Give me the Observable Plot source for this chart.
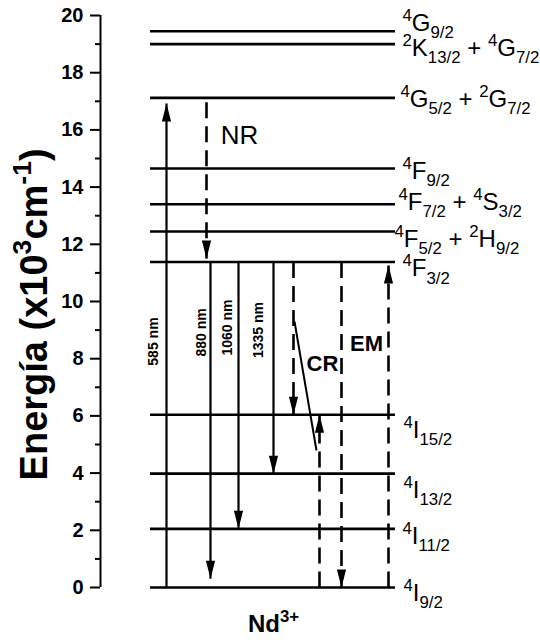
<!DOCTYPE html>
<html>
<head>
<meta charset="utf-8">
<script src="https://cdn.jsdelivr.net/npm/d3@7"></script>
<script src="https://cdn.jsdelivr.net/npm/@observablehq/plot@0.6"></script>
<style>
  html, body { margin: 0; padding: 0; background: white; }
  #chart { width: 540px; height: 642px; }
</style>
</head>
<body>
<div id="chart"></div>
<script>
// ---- Data ----
// Energy levels of Nd3+ (x10^3 cm^-1)
const levelE = [0, 2.05, 3.98, 6.04, 11.38, 12.45, 13.40, 14.65, 17.12, 19.0, 19.45];
const levelName = [
  "^{4}I_{9/2}", "^{4}I_{11/2}", "^{4}I_{13/2}", "^{4}I_{15/2}", "^{4}F_{3/2}",
  "^{4}F_{5/2} + ^{2}H_{9/2}", "^{4}F_{7/2} + ^{4}S_{3/2}", "^{4}F_{9/2}",
  "^{4}G_{5/2} + ^{2}G_{7/2}", "^{2}K_{13/2} + ^{4}G_{7/2}", "^{4}G_{9/2}"
];
const labelE = [-0.21, 1.78, 3.39, 5.49, 11.15, 12.17, 13.47, 14.55, 17.06, 18.85, 19.74];
const labelCol = [30.3, 30.2, 30.3, 30.3, 30.2, 29.4, 29.8, 30.2, 30.0, 30.2, 30.2];

// Transitions (arrows): column, start energy, end energy, dashed?
const arrowName = ["585 nm", "NR", "880 nm", "1060 nm", "1335 nm", "CR down", "CR up", "EM down", "EM up"];
const arrowCol = [6.6, 10.6, 11.0, 13.8, 17.3, 19.3, 21.9, 24.1, 28.8];
const arrowFrom = [0, 16.97, 11.38, 11.38, 11.38, 11.38, 0, 11.38, 0];
const arrowTo = [16.92, 11.5, 0.31, 2.05, 3.98, 6.04, 6.04, 0, 11.26];
const arrowDashed = [false, true, false, false, false, true, true, true, true];

// Cross-relaxation connector
const crCol = [19.4, 21.6];
const crE = [9.30, 4.79];

// Wavelength labels
const nmLabel = ["585 nm", "880 nm", "1060 nm", "1335 nm"];
const nmCol = [5.3, 10.1, 12.7, 15.8];
const nmE = [8.6, 8.92, 9.09, 9.0];

// Process labels
const procLabel = ["NR", "CR", "EM"];
const procCol = [13.9, 22.2, 26.6];
const procE = [15.8, 7.8, 8.53];

// Axis
const yTicks = [0, 2, 4, 6, 8, 10, 12, 14, 16, 18, 20];
const yMinor = [1, 3, 5, 7, 9, 11, 13, 15, 17, 19];
const yTitle = "Energía (x10^{3}cm^{-1})";
const xTitle = "Nd^{3+}";

// ---- Chart ----
const idx = arr => arr.map((_, i) => i);
const arrowIdx = idx(arrowCol);
const solidIdx = arrowIdx.filter(i => !arrowDashed[i]);
const dashIdx = arrowIdx.filter(i => arrowDashed[i]);

const headSymbol = {
  draw(ctx) {
    ctx.moveTo(0, 0);
    ctx.lineTo(4.6, 18);
    ctx.lineTo(-4.6, 18);
    ctx.closePath();
  }
};

const svg = Plot.plot({
  width: 540,
  height: 642,
  marginLeft: 100,
  marginRight: 0,
  marginTop: 15,
  marginBottom: 55,
  x: {domain: [0, 44], axis: null},
  y: {domain: [0, 20], axis: null},
  style: {fontFamily: "'Liberation Sans', Arial, sans-serif", background: "white", color: "black", overflow: "visible"},
  marks: [
    Plot.axisY({ticks: yTicks, tickSize: 10, tickPadding: 7, fontSize: 20, label: null, strokeWidth: 2, tickFormat: d => String(d)}),
    Plot.axisY({ticks: yMinor, tickSize: 5, text: null, label: null, strokeWidth: 2}),
    Plot.ruleX([0], {y1: 0, y2: 20, strokeWidth: 2}),
    // energy levels
    Plot.ruleY(levelE, {x1: 5.0, x2: 29.5, strokeWidth: 2.6, stroke: "black"}),
    // arrows
    Plot.link(solidIdx, {x1: i => arrowCol[i], x2: i => arrowCol[i], y1: i => arrowFrom[i], y2: i => arrowTo[i], stroke: "black", strokeWidth: 2.2}),
    Plot.link(dashIdx, {x1: i => arrowCol[i], x2: i => arrowCol[i], y1: i => arrowFrom[i], y2: i => arrowTo[i], stroke: "black", strokeWidth: 2.6, strokeDasharray: "16,8"}),
    Plot.dot(arrowIdx, {x: i => arrowCol[i], y: i => arrowTo[i], symbol: headSymbol, rotate: i => arrowTo[i] > arrowFrom[i] ? 0 : 180, fill: "black", stroke: "none"}),
    Plot.link([0], {x1: () => crCol[0], x2: () => crCol[1], y1: () => crE[0], y2: () => crE[1], stroke: "black", strokeWidth: 2}),
    // labels
    Plot.text(idx(levelE), {x: i => labelCol[i], y: i => labelE[i], text: i => levelName[i], textAnchor: "start", fontSize: 24}),
    Plot.text(idx(nmLabel), {x: i => nmCol[i], y: i => nmE[i], text: i => nmLabel[i], rotate: -90, fontSize: 14, fontWeight: "bold"}),
    Plot.text([0], {x: () => procCol[0], y: () => procE[0], text: () => procLabel[0], fontSize: 26}),
    Plot.text([1, 2], {x: i => procCol[i], y: i => procE[i], text: i => procLabel[i], fontSize: 22, fontWeight: "bold"}),
    Plot.text([yTitle], {x: -6.6, y: 9.55, rotate: -90, fontSize: 38, fontWeight: "bold"}),
    Plot.text([xTitle], {x: 17.3, y: -1.3, fontSize: 24, fontWeight: "bold"})
  ]
});

// bold tick labels
d3.select(svg).selectAll('g[aria-label="y-axis tick label"]').attr("font-weight", "bold");

// rich text: ^{...} superscript, _{...} subscript
const SVGNS = "http://www.w3.org/2000/svg";
d3.select(svg).selectAll("text").each(function () {
  const s = this.textContent;
  if (!/[\^_]\{/.test(s)) return;
  const re = /(\^|_)\{([^}]*)\}|([^\^_]+)/g;
  this.textContent = "";
  let cur = 0, m;
  while ((m = re.exec(s))) {
    const type = m[1] === "^" ? "sup" : m[1] === "_" ? "sub" : "normal";
    const txt = m[2] ?? m[3];
    const size = type === "normal" ? 1 : 0.7;
    const target = type === "sup" ? -0.42 : type === "sub" ? 0.3 : 0;
    const t = document.createElementNS(SVGNS, "tspan");
    if (size !== 1) t.setAttribute("font-size", "70%");
    const dy = (target - cur) / size;
    if (Math.abs(dy) > 1e-9) t.setAttribute("dy", dy.toFixed(3) + "em");
    t.textContent = txt;
    this.appendChild(t);
    cur = target;
  }
});

document.getElementById("chart").appendChild(svg);
</script>
</body>
</html>
